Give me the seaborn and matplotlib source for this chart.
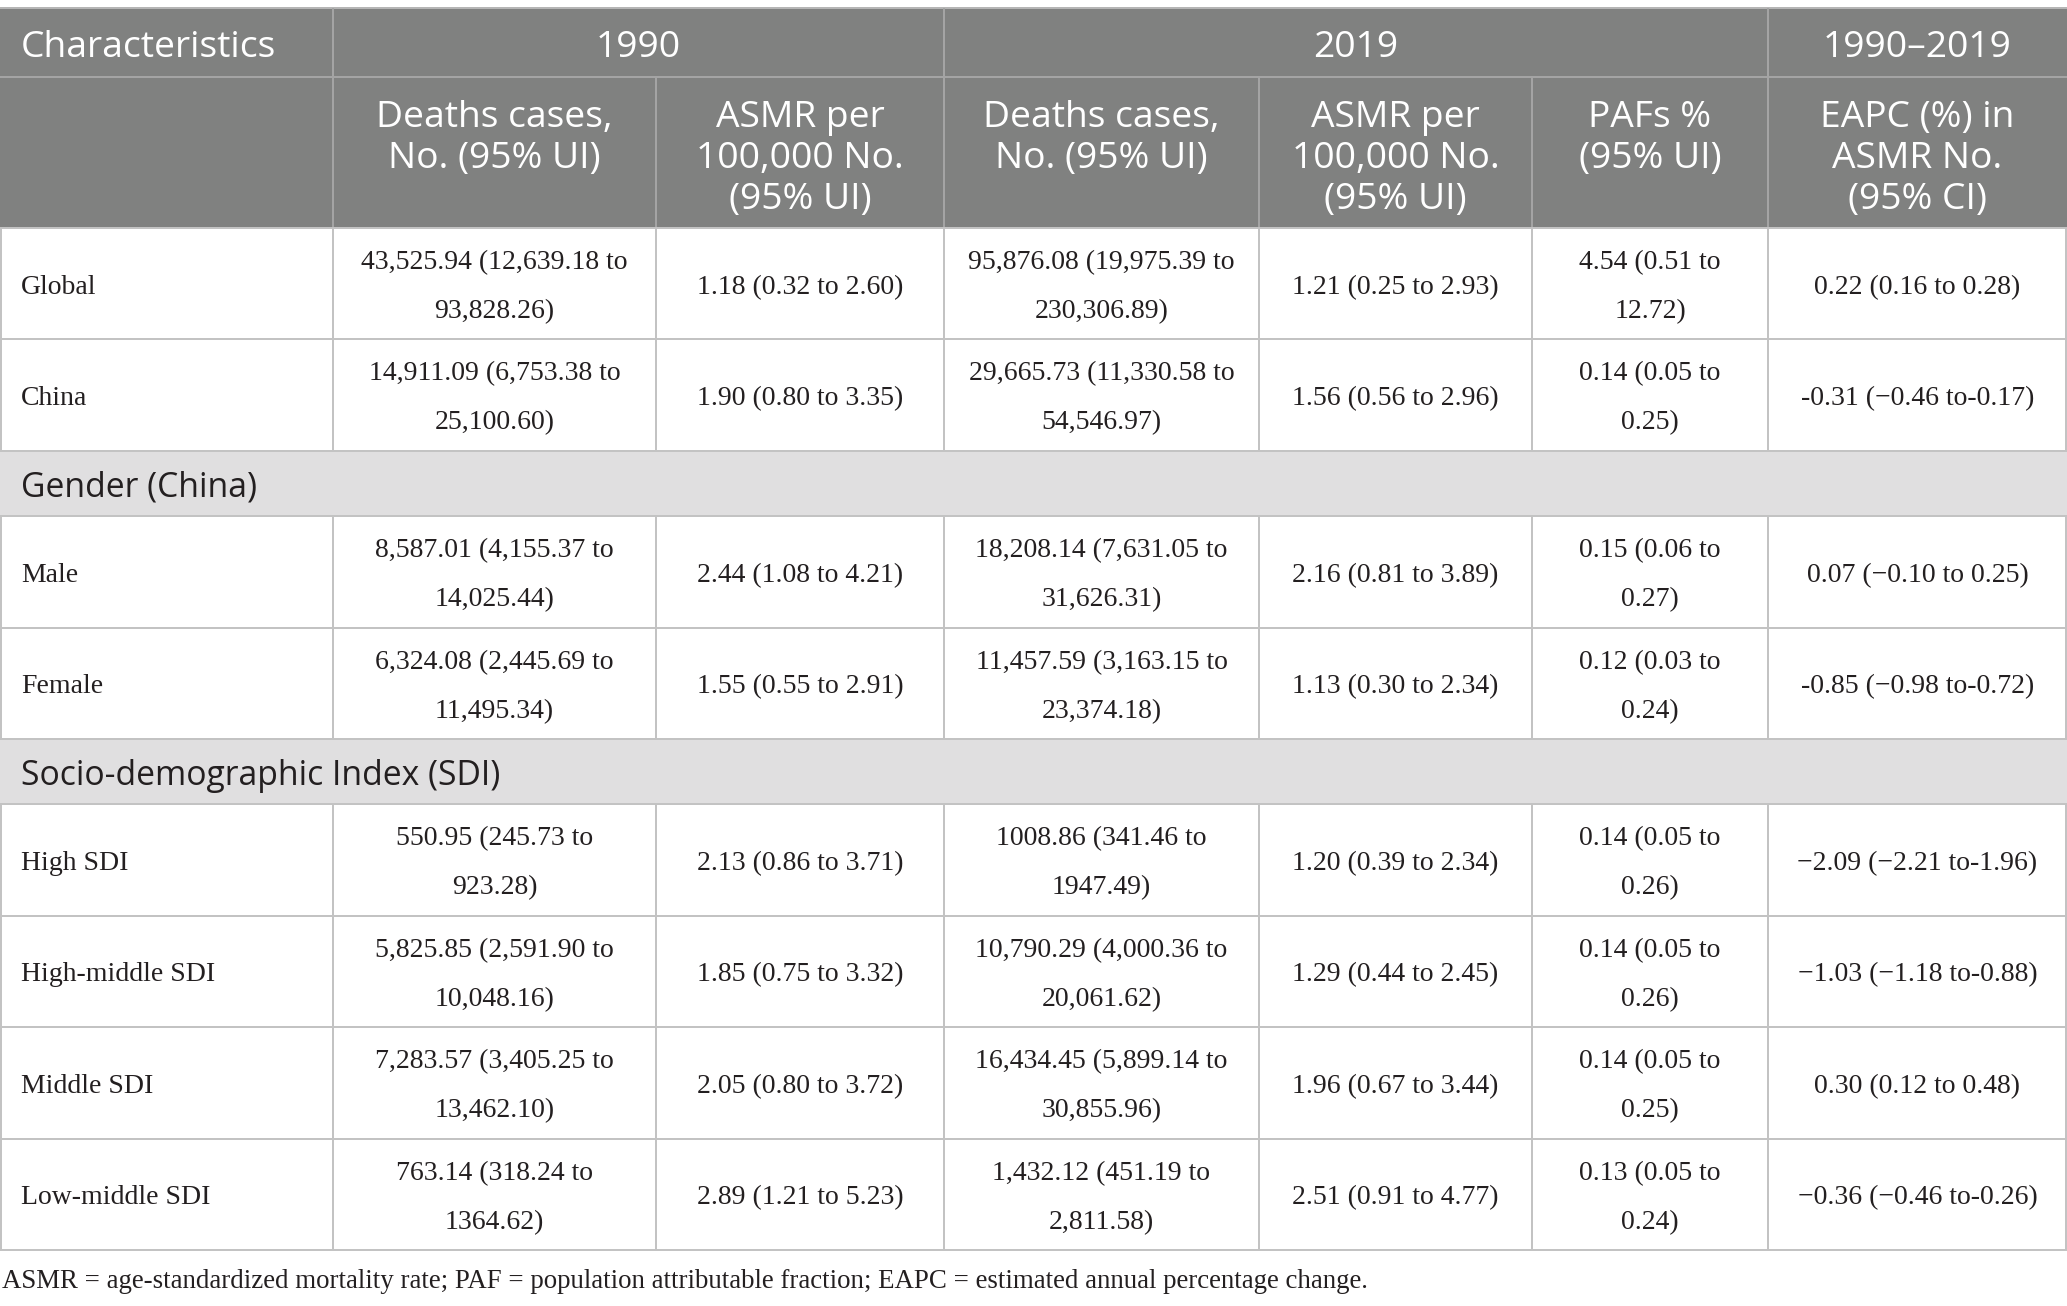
import matplotlib
matplotlib.use("Agg")
import matplotlib.pyplot as plt
import seaborn as sns
import pandas as pd

# ---------------- data ----------------
characteristics = ["Global", "China", "Male", "Female", "High SDI",
                   "High-middle SDI", "Middle SDI", "Low-middle SDI"]
deaths_1990 = ["43,525.94 (12,639.18 to 93,828.26)",
               "14,911.09 (6,753.38 to 25,100.60)",
               "8,587.01 (4,155.37 to 14,025.44)",
               "6,324.08 (2,445.69 to 11,495.34)",
               "550.95 (245.73 to 923.28)",
               "5,825.85 (2,591.90 to 10,048.16)",
               "7,283.57 (3,405.25 to 13,462.10)",
               "763.14 (318.24 to 1364.62)"]
asmr_1990 = ["1.18 (0.32 to 2.60)", "1.90 (0.80 to 3.35)", "2.44 (1.08 to 4.21)",
             "1.55 (0.55 to 2.91)", "2.13 (0.86 to 3.71)", "1.85 (0.75 to 3.32)",
             "2.05 (0.80 to 3.72)", "2.89 (1.21 to 5.23)"]
deaths_2019 = ["95,876.08 (19,975.39 to 230,306.89)",
               "29,665.73 (11,330.58 to 54,546.97)",
               "18,208.14 (7,631.05 to 31,626.31)",
               "11,457.59 (3,163.15 to 23,374.18)",
               "1008.86 (341.46 to 1947.49)",
               "10,790.29 (4,000.36 to 20,061.62)",
               "16,434.45 (5,899.14 to 30,855.96)",
               "1,432.12 (451.19 to 2,811.58)"]
asmr_2019 = ["1.21 (0.25 to 2.93)", "1.56 (0.56 to 2.96)", "2.16 (0.81 to 3.89)",
             "1.13 (0.30 to 2.34)", "1.20 (0.39 to 2.34)", "1.29 (0.44 to 2.45)",
             "1.96 (0.67 to 3.44)", "2.51 (0.91 to 4.77)"]
pafs_2019 = ["4.54 (0.51 to 12.72)", "0.14 (0.05 to 0.25)", "0.15 (0.06 to 0.27)",
             "0.12 (0.03 to 0.24)", "0.14 (0.05 to 0.26)", "0.14 (0.05 to 0.26)",
             "0.14 (0.05 to 0.25)", "0.13 (0.05 to 0.24)"]
eapc_asmr = ["0.22 (0.16 to 0.28)", "-0.31 (\u22120.46 to-0.17)",
             "0.07 (\u22120.10 to 0.25)", "-0.85 (\u22120.98 to-0.72)",
             "\u22122.09 (\u22122.21 to-1.96)", "\u22121.03 (\u22121.18 to-0.88)",
             "0.30 (0.12 to 0.48)", "\u22120.36 (\u22120.46 to-0.26)"]

section_titles = ["Gender (China)", "Socio-demographic Index (SDI)"]
section_before = ["Male", "High SDI"]

stub_header = "Characteristics"
year_groups = ["1990", "2019", "1990\u20132019"]
year_spans = [2, 3, 1]
column_headers = ["Deaths cases,\nNo. (95% UI)", "ASMR per\n100,000 No.\n(95% UI)",
                  "Deaths cases,\nNo. (95% UI)", "ASMR per\n100,000 No.\n(95% UI)",
                  "PAFs %\n(95% UI)", "EAPC (%) in\nASMR No.\n(95% CI)"]
footnote = ("ASMR = age-standardized mortality rate; PAF = population attributable "
            "fraction; EAPC = estimated annual percentage change.")

df = pd.DataFrame({"Characteristics": characteristics,
                   "deaths_1990": deaths_1990, "asmr_1990": asmr_1990,
                   "deaths_2019": deaths_2019, "asmr_2019": asmr_2019,
                   "pafs_2019": pafs_2019, "eapc": eapc_asmr})
value_cols = ["deaths_1990", "asmr_1990", "deaths_2019", "asmr_2019", "pafs_2019", "eapc"]

# ---------------- style ----------------
sns.set_theme(style="white")
plt.rcParams["font.family"] = ["Liberation Serif", "DejaVu Serif"]

W, H, DPI = 2067, 1306, 100
HEADER_BG = "#808180"
HEADER_LINE = "#a4a4a4"
SECTION_BG = "#e0dfe0"
GRID = "#c3c3c3"
TEXT = "#231f20"
SANS = ["Open Sans", "DejaVu Sans"]
SERIF = ["Liberation Serif", "DejaVu Serif"]
LW = 2 * 72 / DPI
FS_HEAD, FS_SEC, FS_BODY, FS_NOTE = 26.8, 24.3, 20, 19.4

col_edges = [0, 333, 656, 944, 1259, 1532, 1768, 2067]
top = 8
h_head1, h_head2 = 69, 151
h_data, h_section = 111.4, 65.4

fig = plt.figure(figsize=(W / DPI, H / DPI), dpi=DPI)
ax = fig.add_axes([0, 0, 1, 1])
ax.set_xlim(0, W)
ax.set_ylim(H, 0)
ax.axis("off")
renderer = fig.canvas.get_renderer()

# build row list
rows = []
sec_map = dict(zip(section_before, section_titles))
for _, r in df.iterrows():
    if r["Characteristics"] in sec_map:
        rows.append(("section", sec_map[r["Characteristics"]]))
    rows.append(("data", r))

y_h1 = top + h_head1
y_h2 = y_h1 + h_head2

# header backgrounds
ax.axhspan(top, y_h2, color=HEADER_BG, lw=0, zorder=0)
ax.hlines(top, 0, W, color="#b5b5b5", lw=LW, zorder=2)
ax.hlines(y_h1, 0, W, color=HEADER_LINE, lw=LW, zorder=2)

# header row 1
ax.text(21, top + 49, stub_header, family=SANS, fontsize=FS_HEAD, color="white",
        ha="left", va="baseline")
ci = 1
group_edges = [col_edges[1]]
for g, span in zip(year_groups, year_spans):
    x0, x1 = col_edges[ci], col_edges[ci + span]
    ax.text((x0 + x1) / 2, top + 49, g, family=SANS, fontsize=FS_HEAD, color="white",
            ha="center", va="baseline")
    ci += span
    group_edges.append(x1)
ax.vlines(group_edges[:-1], top, y_h1, color=HEADER_LINE, lw=LW, zorder=2)

# header row 2
for j, lab in enumerate(column_headers):
    xc = (col_edges[j + 1] + col_edges[j + 2]) / 2
    for k, line in enumerate(lab.split("\n")):
        ax.text(xc, y_h1 + 50 + 41 * k, line, family=SANS, fontsize=FS_HEAD,
                color="white", ha="center", va="baseline")
ax.vlines(col_edges[1:-1], y_h1, y_h2, color=HEADER_LINE, lw=LW, zorder=2)

PAD = 22


def wrap(text, width):
    t = ax.text(0, 0, text, family=SERIF, fontsize=FS_BODY)
    w = t.get_window_extent(renderer).width
    t.remove()
    if w <= width - 2 * PAD or " to " not in text:
        return [text]
    i = text.rfind(" to ")
    return [text[: i + 3], text[i + 4:]]


y = y_h2
for kind, content in rows:
    if kind == "section":
        ax.axhspan(y, y + h_section, color=SECTION_BG, lw=0, zorder=0)
        ax.text(21, y + 46, content, family=SANS, fontsize=FS_SEC, color=TEXT,
                ha="left", va="baseline")
        ax.hlines([y, y + h_section], 0, W, color=GRID, lw=LW, zorder=2)
        y += h_section
        continue
    r = content
    yc = y + h_data / 2
    ax.text(21, yc + 10, r["Characteristics"], family=SERIF, fontsize=FS_BODY,
            color=TEXT, ha="left", va="baseline")
    for j, c in enumerate(value_cols):
        x0, x1 = col_edges[j + 1], col_edges[j + 2]
        lines = wrap(r[c], x1 - x0)
        n = len(lines)
        for k, line in enumerate(lines):
            ax.text((x0 + x1) / 2, yc + 10 + (k - (n - 1) / 2) * 49, line,
                    family=SERIF, fontsize=FS_BODY, color=TEXT, ha="center",
                    va="baseline")
    ax.vlines(col_edges[1:-1], y, y + h_data, color=GRID, lw=LW, zorder=2)
    ax.vlines([0.5, W - 1], y, y + h_data, color=GRID, lw=LW, zorder=2)
    ax.hlines([y, y + h_data], 0, W, color=GRID, lw=LW, zorder=2)
    y += h_data

ax.text(2, y + 38, footnote, family=SERIF, fontsize=FS_NOTE, color=TEXT,
        ha="left", va="baseline")

fig.savefig("out.png", dpi=DPI, facecolor="white")
